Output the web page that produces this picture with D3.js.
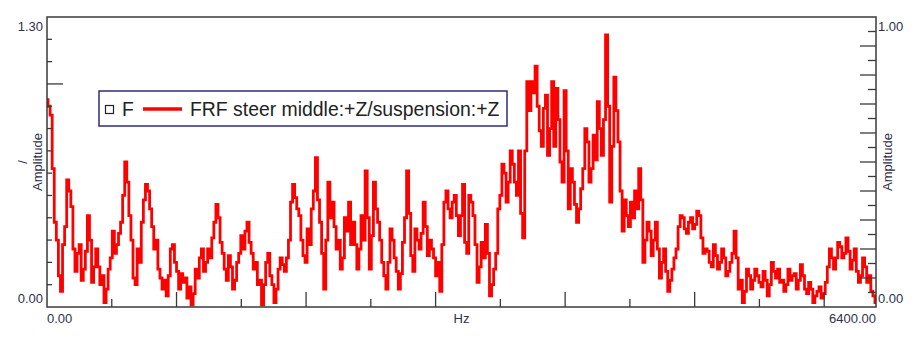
<!DOCTYPE html>
<html>
<head>
<meta charset="utf-8">
<script src="https://cdn.jsdelivr.net/npm/d3@7"></script>
<style>
	body { margin: 0; background: #fff; }
	svg text { font-family: 'Liberation Sans', Arial, sans-serif; }
</style>
</head>
<body>
<div id="chart"></div>
<script>
/* global d3 */

// frequency resolution of the trace (Hz per point)
const freqStep = 16;

// amplitude, one value per 16 Hz from 0 to 6400 Hz
const amplitude = [
	0.93, 0.90, 0.86, 0.62, 0.38, 0.30, 0.14, 0.07, 0.28, 0.36, 0.57, 0.52, 0.45, 0.26, 0.16, 0.24, 0.28, 0.12, 0.17, 0.25,
	0.41, 0.30, 0.11, 0.18, 0.26, 0.18, 0.10, 0.14, 0.02, 0.08, 0.17, 0.22, 0.34, 0.24, 0.28, 0.33, 0.38, 0.50, 0.65, 0.56,
	0.41, 0.30, 0.13, 0.10, 0.26, 0.20, 0.38, 0.48, 0.55, 0.52, 0.44, 0.36, 0.26, 0.30, 0.17, 0.13, 0.08, 0.12, 0.05, 0.14,
	0.26, 0.28, 0.20, 0.16, 0.08, 0.15, 0.11, 0.13, 0.04, 0.09, 0.01, 0.06, 0.17, 0.13, 0.22, 0.26, 0.16, 0.20, 0.26, 0.22,
	0.31, 0.38, 0.46, 0.40, 0.29, 0.24, 0.17, 0.12, 0.23, 0.18, 0.08, 0.12, 0.20, 0.24, 0.32, 0.26, 0.34, 0.38, 0.29, 0.24,
	0.17, 0.20, 0.10, 0.12, 0.01, 0.10, 0.20, 0.24, 0.14, 0.10, 0.02, 0.08, 0.17, 0.22, 0.19, 0.16, 0.22, 0.30, 0.47, 0.55,
	0.49, 0.44, 0.41, 0.30, 0.23, 0.20, 0.35, 0.28, 0.44, 0.52, 0.67, 0.48, 0.38, 0.24, 0.08, 0.30, 0.56, 0.40, 0.47, 0.36,
	0.26, 0.30, 0.17, 0.22, 0.40, 0.34, 0.47, 0.28, 0.38, 0.28, 0.17, 0.26, 0.41, 0.30, 0.61, 0.40, 0.17, 0.32, 0.56, 0.44,
	0.38, 0.30, 0.20, 0.14, 0.08, 0.20, 0.35, 0.30, 0.22, 0.16, 0.08, 0.15, 0.29, 0.40, 0.61, 0.42, 0.23, 0.16, 0.35, 0.30,
	0.26, 0.33, 0.47, 0.36, 0.23, 0.30, 0.26, 0.22, 0.14, 0.20, 0.07, 0.28, 0.47, 0.52, 0.44, 0.40, 0.47, 0.50, 0.41, 0.32,
	0.41, 0.55, 0.29, 0.24, 0.50, 0.47, 0.41, 0.28, 0.11, 0.18, 0.29, 0.22, 0.37, 0.24, 0.05, 0.10, 0.17, 0.24, 0.44, 0.50,
	0.64, 0.60, 0.47, 0.56, 0.70, 0.64, 0.56, 0.50, 0.70, 0.42, 0.31, 0.70, 1.01, 0.88, 1.01, 0.96, 1.08, 0.90, 0.79, 0.72,
	0.89, 0.95, 0.68, 0.80, 1.01, 0.72, 0.98, 0.84, 0.65, 0.56, 0.97, 0.70, 0.44, 0.62, 0.56, 0.46, 0.38, 0.44, 0.53, 0.62,
	0.80, 0.74, 0.56, 0.62, 0.77, 0.66, 0.92, 0.80, 0.68, 0.84, 1.22, 0.90, 0.47, 0.72, 1.03, 0.88, 0.74, 0.52, 0.34, 0.48,
	0.41, 0.36, 0.47, 0.40, 0.52, 0.44, 0.62, 0.48, 0.20, 0.30, 0.38, 0.34, 0.23, 0.30, 0.38, 0.26, 0.13, 0.20, 0.26, 0.16,
	0.07, 0.12, 0.17, 0.22, 0.26, 0.36, 0.41, 0.40, 0.35, 0.33, 0.38, 0.40, 0.35, 0.37, 0.43, 0.41, 0.31, 0.24, 0.26, 0.25,
	0.20, 0.18, 0.28, 0.23, 0.17, 0.20, 0.26, 0.22, 0.14, 0.16, 0.20, 0.24, 0.34, 0.22, 0.08, 0.12, 0.02, 0.07, 0.17, 0.14,
	0.08, 0.12, 0.17, 0.14, 0.11, 0.09, 0.16, 0.12, 0.05, 0.10, 0.20, 0.16, 0.13, 0.17, 0.11, 0.12, 0.07, 0.10, 0.17, 0.12,
	0.14, 0.15, 0.08, 0.12, 0.19, 0.14, 0.08, 0.06, 0.11, 0.08, 0.02, 0.05, 0.07, 0.09, 0.04, 0.06, 0.11, 0.18, 0.26, 0.22,
	0.17, 0.22, 0.29, 0.27, 0.22, 0.24, 0.31, 0.25, 0.17, 0.21, 0.26, 0.16, 0.11, 0.14, 0.22, 0.18, 0.11, 0.14, 0.07, 0.05,
	0.02,
];

const xDomain = [0, 6400];
const yLeftDomain = [0, 1.30];
const yRightDomain = [0, 1.00];
const xEndLabels = ['0.00', '6400.00'];
const xAxisTitle = 'Hz';
const yAxisTitle = 'Amplitude';
const yUnit = '/';
const legendMarker = 'F';
const seriesName = 'FRF steer middle:+Z/suspension:+Z';

const width = 921;
const height = 345;
const margins = {
	left: 47,
	right: 45,
	top: 17,
	bottom: 38,
};
const graphWidth = width - margins.left - margins.right;
const graphHeight = height - margins.top - margins.bottom;
const axisColor = '#3a3a3a';
const labelColor = '#30304a';

const data = amplitude.map((v, i) => ({freq: i * freqStep, value: v}));

const svg = d3.select('#chart').append('svg')
	.attr('width', width)
	.attr('height', height);

const x = d3.scaleLinear()
	.domain(xDomain)
	.range([0, graphWidth]);

const yLeft = d3.scaleLinear()
	.domain(yLeftDomain)
	.range([graphHeight, 0]);

const yRight = d3.scaleLinear()
	.domain(yRightDomain)
	.range([graphHeight, 0]);

const chartGroup = svg.append('g')
	.attr('transform', `translate(${margins.left},${margins.top})`);

svg.append('defs').append('clipPath')
	.attr('id', 'plot-clip')
	.append('rect')
	.attr('width', graphWidth)
	.attr('height', graphHeight);

// trace
const line = d3.line()
	.x(d => x(d.freq))
	.y(d => yLeft(d.value))
	.curve(d3.curveStep);

chartGroup.append('path')
	.datum(data)
	.attr('clip-path', 'url(#plot-clip)')
	.attr('fill', 'none')
	.attr('stroke', '#ff0000')
	.attr('stroke-width', 2.8)
	.attr('stroke-linejoin', 'miter')
	.attr('d', line);

// ticks, all pointing into the plot
const leftTicks = d3.range(1, 13).map(d => d / 10);
chartGroup.selectAll('line.left-tick')
	.data(leftTicks)
	.enter().append('line')
	.attr('class', 'left-tick')
	.attr('x1', 0)
	.attr('x2', d => (Math.abs(d - 1) < 1e-6 ? 16 : 5))
	.attr('y1', d => yLeft(d))
	.attr('y2', d => yLeft(d))
	.attr('stroke', axisColor)
	.attr('stroke-width', 1.3);

const rightTicks = d3.range(1, 20).map(d => d / 20);
chartGroup.selectAll('line.right-tick')
	.data(rightTicks)
	.enter().append('line')
	.attr('class', 'right-tick')
	.attr('x1', graphWidth)
	.attr('x2', (d, i) => graphWidth - (i % 2 === 1 ? 16 : 8))
	.attr('y1', d => yRight(d))
	.attr('y2', d => yRight(d))
	.attr('stroke', axisColor)
	.attr('stroke-width', 1.3);

const bottomTicks = d3.range(500, 6400, 500);
chartGroup.selectAll('line.bottom-tick')
	.data(bottomTicks)
	.enter().append('line')
	.attr('class', 'bottom-tick')
	.attr('x1', d => x(d))
	.attr('x2', d => x(d))
	.attr('y1', graphHeight)
	.attr('y2', d => graphHeight - (d % 1000 === 0 ? 15 : 8))
	.attr('stroke', axisColor)
	.attr('stroke-width', 1.3);

// frame
chartGroup.append('rect')
	.attr('width', graphWidth)
	.attr('height', graphHeight)
	.attr('fill', 'none')
	.attr('stroke', axisColor)
	.attr('stroke-width', 1.5);

// axis labels
const tickFont = 13;
chartGroup.selectAll('text.left-label')
	.data(yLeftDomain)
	.enter().append('text')
	.attr('class', 'left-label')
	.attr('x', -4)
	.attr('y', (d, i) => (i === 0 ? yLeft(d) - 4 : yLeft(d) + 14))
	.attr('text-anchor', 'end')
	.attr('font-size', tickFont)
	.attr('fill', labelColor)
	.text(d => d3.format('.2f')(d));

chartGroup.selectAll('text.right-label')
	.data(yRightDomain)
	.enter().append('text')
	.attr('class', 'right-label')
	.attr('x', graphWidth + 2)
	.attr('y', (d, i) => (i === 0 ? yRight(d) - 4 : yRight(d) + 14))
	.attr('font-size', tickFont)
	.attr('fill', labelColor)
	.text(d => d3.format('.2f')(d));

chartGroup.selectAll('text.bottom-label')
	.data(xDomain)
	.enter().append('text')
	.attr('class', 'bottom-label')
	.attr('x', d => x(d))
	.attr('y', graphHeight + 16)
	.attr('text-anchor', (d, i) => (i === 0 ? 'start' : 'end'))
	.attr('font-size', tickFont)
	.attr('fill', labelColor)
	.text((d, i) => xEndLabels[i]);

chartGroup.append('text')
	.attr('x', graphWidth / 2)
	.attr('y', graphHeight + 16)
	.attr('text-anchor', 'middle')
	.attr('font-size', tickFont)
	.attr('fill', labelColor)
	.text(xAxisTitle);

// rotated amplitude titles on both sides
const titleY = 162;
[[37, [yUnit, yAxisTitle]], [887, [yAxisTitle]]].forEach(([cx, lines]) => {
	const title = svg.append('text')
		.attr('transform', `translate(${cx},${titleY}) rotate(-90)`)
		.attr('text-anchor', 'middle')
		.attr('font-size', tickFont)
		.attr('fill', labelColor);
	lines.forEach((t, i) => {
		title.append('tspan')
			.attr('x', 0)
			.attr('dy', i === 0 ? (lines.length - 1) * -15 + 4.5 : 15)
			.text(t);
	});
});

// legend
const legend = svg.append('g')
	.attr('transform', 'translate(99,91)');

legend.append('rect')
	.attr('width', 408)
	.attr('height', 35)
	.attr('fill', '#fff')
	.attr('stroke', '#2e2e78')
	.attr('stroke-width', 1.5);

legend.append('rect')
	.attr('x', 6.5)
	.attr('y', 14.5)
	.attr('width', 8)
	.attr('height', 8)
	.attr('fill', 'none')
	.attr('stroke', '#222')
	.attr('stroke-width', 1.2);

legend.append('text')
	.attr('x', 23)
	.attr('y', 25)
	.attr('font-size', 19.4)
	.attr('fill', '#222')
	.text(legendMarker);

legend.append('line')
	.attr('x1', 44)
	.attr('x2', 83)
	.attr('y1', 18)
	.attr('y2', 18)
	.attr('stroke', '#ff0000')
	.attr('stroke-width', 3.5);

legend.append('text')
	.attr('x', 91)
	.attr('y', 25)
	.attr('font-size', 19.4)
	.attr('fill', '#222')
	.text(seriesName);
</script>
</body>
</html>
